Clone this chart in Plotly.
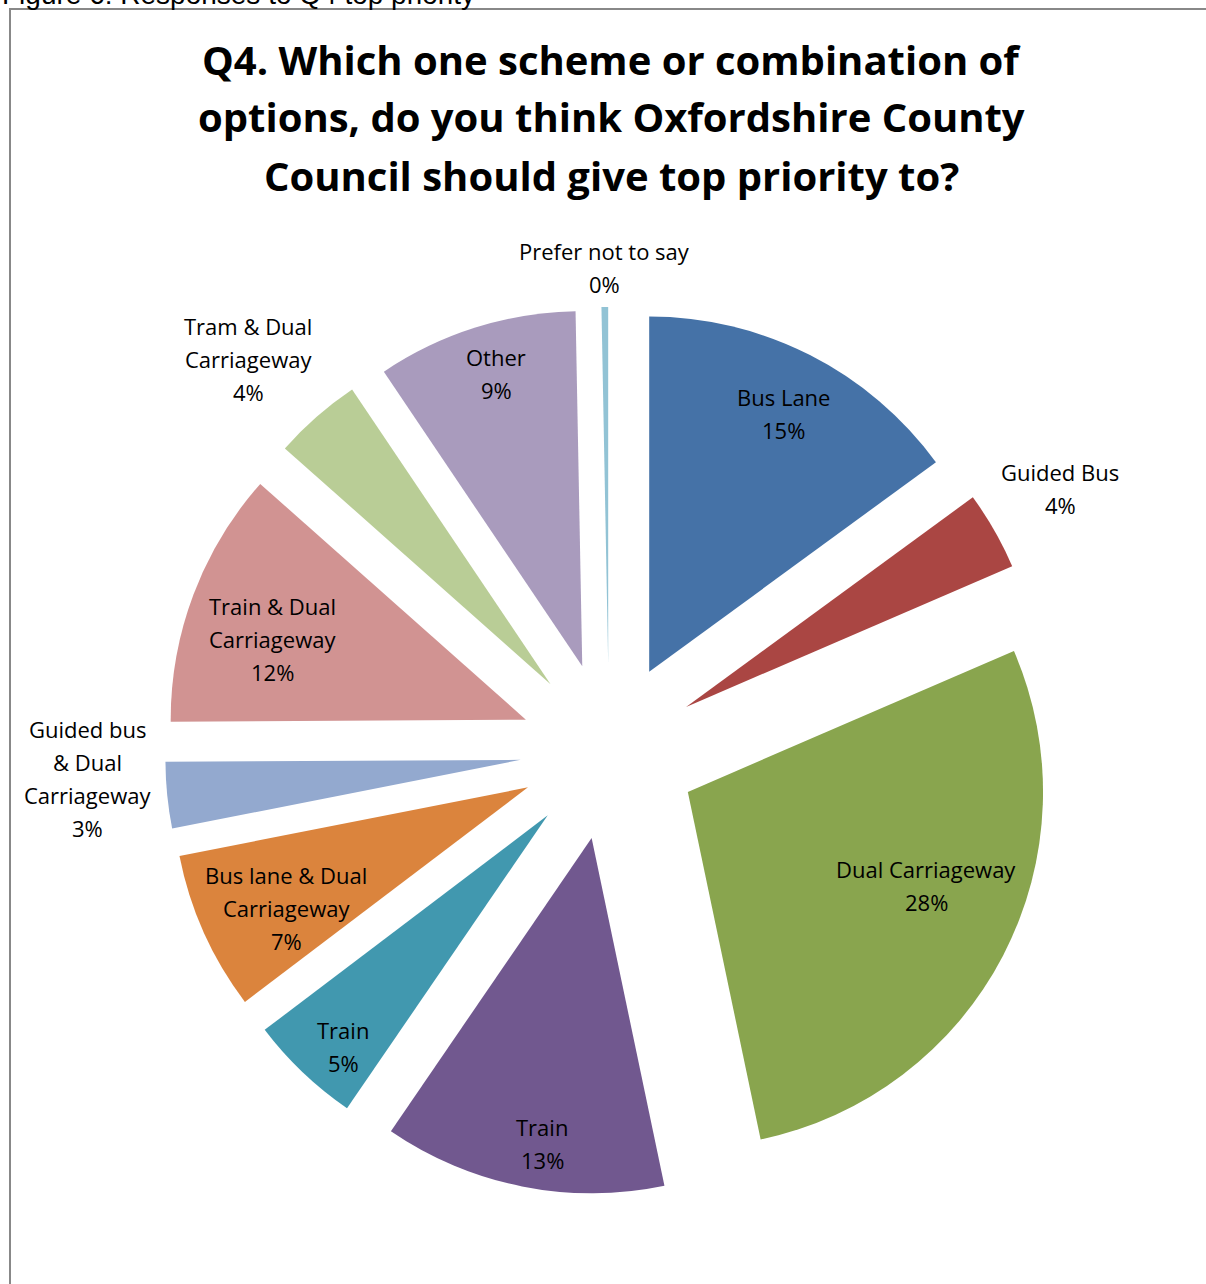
import math
import plotly.graph_objects as go

# ---- data ----
slice_ids = ["bus_lane", "guided_bus", "dual_cw", "train_a", "train_b",
             "bus_lane_dual", "guided_bus_dual", "train_dual", "tram_dual",
             "other", "prefer_not"]
slice_names = ["Bus Lane", "Guided Bus", "Dual Carriageway", "Train", "Train",
               "Bus lane & Dual<br>Carriageway", "Guided bus<br>& Dual<br>Carriageway",
               "Train & Dual<br>Carriageway", "Tram & Dual<br>Carriageway",
               "Other", "Prefer not to say"]
slice_values = [14.9, 3.55, 28.1, 12.8, 5.1, 7.2, 3.0, 11.6, 4.0, 9.1, 0.3]
slice_colors = ["#4572A7", "#AA4643", "#89A54E", "#71588F", "#4198AF",
                "#DB843D", "#93A9CF", "#D19392", "#B9CD96", "#A99BBD", "#92C3D5"]
# label placement style: distance from the slice tip (in pie radii, >1 = outside)
label_radius = [0.82, 1.22, 0.72, 0.87, 0.87, 0.76, 1.22, 0.75, 1.25, 0.86, 1.11]
# label placement style: small angular nudge from the slice mid angle (degrees)
label_angle_shift = [0.5, -0.4, -4.5, -1.6, -1.7, -1.8, 2.7, -2.2, -1.4, 0.9, 0.0]

title_lines = ["Q4. Which one scheme or combination of",
               "options, do you think Oxfordshire County",
               "Council should give top priority to?"]
caption = "Figure 6: Responses to Q4 top priority"

W, H = 1206, 1284
PULL = 0.25
DOM_X = (165, 1053)   # pie box in pixels
DOM_Y = (307, 1195)
LABEL_FONT = dict(family="Open Sans", size=22, color="black")
LINE_H = 33

fig = go.Figure(go.Pie(
    labels=slice_ids,
    values=slice_values,
    text=slice_names,
    textinfo="none",
    sort=False,
    direction="clockwise",
    rotation=0,
    pull=[PULL] * len(slice_values),
    marker=dict(colors=slice_colors, line=dict(width=0)),
    hovertemplate="%{text}<br>%{percent:.0%}<extra></extra>",
    showlegend=False,
    automargin=False,
    domain=dict(x=[DOM_X[0] / W, DOM_X[1] / W], y=[1 - DOM_Y[1] / H, 1 - DOM_Y[0] / H]),
))

# ---- labels placed along each slice's mid angle (computed from the data) ----
cx = (DOM_X[0] + DOM_X[1]) / 2
cy = (DOM_Y[0] + DOM_Y[1]) / 2
r = min(DOM_X[1] - DOM_X[0], DOM_Y[1] - DOM_Y[0]) / (2 + 2 * PULL)
total = sum(slice_values)
annotations = []
cum = 0.0
for name, val, f, da in zip(slice_names, slice_values, label_radius, label_angle_shift):
    mid = (cum + val / 2) / total * 2 * math.pi + math.radians(da)
    cum += val
    dist = (PULL + f) * r
    px = cx + dist * math.sin(mid)
    py = cy - dist * math.cos(mid)
    lines = name.split("<br>") + ["{:.0%}".format(val / total)]
    n = len(lines)
    for i, ln in enumerate(lines):
        ly = py + (i - (n - 1) / 2) * LINE_H
        annotations.append(dict(
            text=ln, x=px / W, y=1 - ly / H, xref="paper", yref="paper",
            xanchor="center", yanchor="middle", showarrow=False, font=LABEL_FONT))

for i, line in enumerate(title_lines):
    annotations.append(dict(
        text="<b>%s</b>" % line, x=611 / W, y=1 - (59 + 58 * i) / H,
        xref="paper", yref="paper", xanchor="center", yanchor="middle",
        showarrow=False, font=dict(family="Open Sans", size=40, color="black")))
annotations.append(dict(
    text=caption, x=0, y=1 - 12 / H, xref="paper", yref="paper",
    xanchor="left", yanchor="bottom", showarrow=False,
    font=dict(family="Liberation Sans", size=28, color="black")))

fig.update_layout(
    width=W, height=H,
    margin=dict(l=0, r=0, t=0, b=0, pad=0, autoexpand=False),
    paper_bgcolor="white", plot_bgcolor="white",
    annotations=annotations,
    shapes=[dict(type="rect", xref="paper", yref="paper",
                 x0=10 / W, x1=1.05, y0=-0.05, y1=1 - 9 / H,
                 line=dict(color="#888888", width=2), fillcolor="rgba(0,0,0,0)")],
)

fig.write_html("out.html")
